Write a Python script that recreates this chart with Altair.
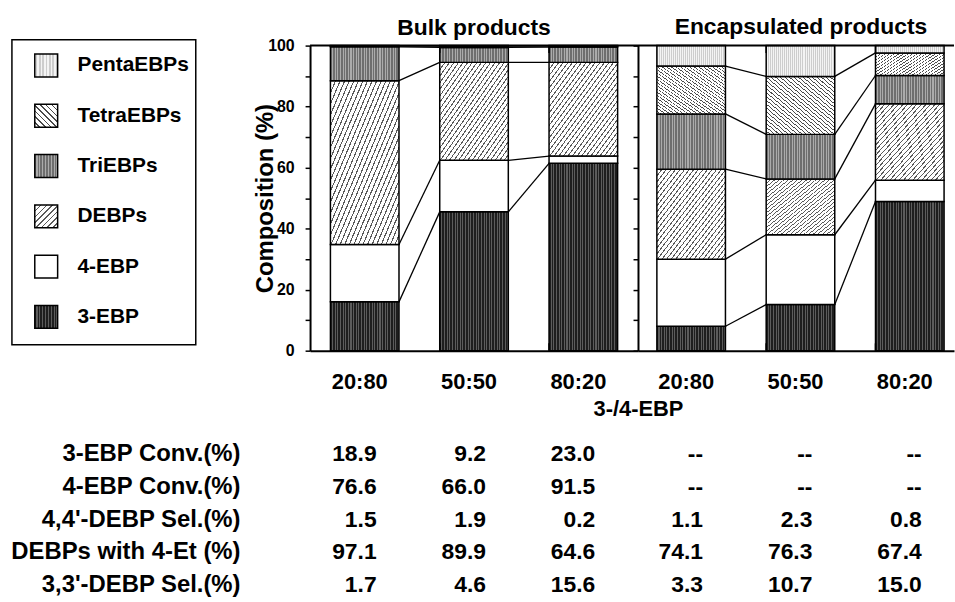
import altair as alt
import pandas as pd

FONT = "Liberation Sans"

conditions = ["20:80", "50:50", "80:20"]
series = ["3-EBP", "4-EBP", "DEBPs", "TriEBPs", "TetraEBPs", "PentaEBPs"]

# Product composition (%), one value per 3-/4-EBP ratio
bulk_3ebp = [16.0, 45.5, 61.4]
bulk_4ebp = [18.8, 16.9, 2.4]
bulk_debps = [53.7, 32.1, 30.7]
bulk_triebps = [11.1, 4.9, 5.0]
bulk_tetraebps = [0.2, 0.4, 0.3]
bulk_pentaebps = [0.2, 0.2, 0.2]

encap_3ebp = [8.0, 15.1, 48.9]
encap_4ebp = [22.0, 22.9, 7.0]
encap_debps = [29.5, 18.3, 25.0]
encap_triebps = [18.1, 14.6, 9.3]
encap_tetraebps = [15.7, 19.0, 7.4]
encap_pentaebps = [6.7, 10.1, 2.4]

# Table under the panels
metrics = ["3-EBP Conv.(%)", "4-EBP Conv.(%)", "4,4'-DEBP Sel.(%)",
           "DEBPs with 4-Et (%)", "3,3'-DEBP Sel.(%)"]
conv3_bulk = ["18.9", "9.2", "23.0"]
conv4_bulk = ["76.6", "66.0", "91.5"]
sel44_bulk = ["1.5", "1.9", "0.2"]
et4_bulk = ["97.1", "89.9", "64.6"]
sel33_bulk = ["1.7", "4.6", "15.6"]
conv3_encap = ["--", "--", "--"]
conv4_encap = ["--", "--", "--"]
sel44_encap = ["1.1", "2.3", "0.8"]
et4_encap = ["74.1", "76.3", "67.4"]
sel33_encap = ["3.3", "10.7", "15.0"]

bulk_values = [bulk_3ebp, bulk_4ebp, bulk_debps, bulk_triebps, bulk_tetraebps, bulk_pentaebps]
encap_values = [encap_3ebp, encap_4ebp, encap_debps, encap_triebps, encap_tetraebps, encap_pentaebps]
bulk_table = [conv3_bulk, conv4_bulk, sel44_bulk, et4_bulk, sel33_bulk]
encap_table = [conv3_encap, conv4_encap, sel44_encap, et4_encap, sel33_encap]

H = 307          # plot height of each panel
W_BULK = 330
W_ENCAP = 318
TABLE_ROWS = [411, 543]   # first / last table row, measured from the panel top


def segments(values):
    rows = []
    for i, c in enumerate(conditions):
        lo = 0.0
        for s, vals in zip(series, values):
            hi = lo + vals[i]
            rows.append({"cond": c, "series": s, "lo": lo, "hi": hi})
            lo = hi
    return pd.DataFrame(rows)


def connectors(values):
    tops = []
    for i in range(len(conditions)):
        acc, t = 0.0, []
        for vals in values[:-1]:
            acc += vals[i]
            t.append(acc)
        tops.append(t)
    rows = []
    for i in range(len(conditions) - 1):
        for k in range(len(series) - 1):
            rows.append({"cond": conditions[i], "next": conditions[i + 1],
                         "left": tops[i][k], "right": tops[i + 1][k]})
    return pd.DataFrame(rows)


def table(cols):
    return pd.DataFrame([{"metric": m, "cond": c, "text": v}
                         for m, vals in zip(metrics, cols)
                         for c, v in zip(conditions, vals)])


def stripes(line, bg, n, frac, x1, y1, x2, y2):
    stops = []
    for k in range(n):
        a, b, c = k / n, (k + frac) / n, (k + 1) / n
        stops += [{"offset": round(a, 4), "color": line},
                  {"offset": round(b, 4), "color": line},
                  {"offset": round(b, 4), "color": bg},
                  {"offset": round(c, 4), "color": bg}]
    return {"gradient": "linear", "x1": x1, "y1": y1, "x2": x2, "y2": y2, "stops": stops}


def fills(vert, diag):
    return {
        "3-EBP": stripes("#1e1e1e", "#5c5c5c", vert, 0.6, 0, 0, 1, 0),
        "4-EBP": "white",
        "DEBPs": stripes("#5a5a5a", "white", diag, 0.26, 0, 0, 1, 1),
        "TriEBPs": stripes("#6e6e6e", "#ababab", vert, 0.6, 0, 0, 1, 0),
        "TetraEBPs": stripes("#4a4a4a", "white", diag, 0.26, 1, 0, 0, 1),
        "PentaEBPs": stripes("#cdcdcd", "#f4f4f4", vert + 8, 0.5, 0, 0, 1, 0),
    }


BAR_FILLS = fills(26, 30)
KEY_FILLS = fills(8, 8)

y_scale = alt.Scale(domain=[0, 100], nice=False, zero=True)
row_scale_args = dict(type="point", domain=metrics, padding=0)


def x_scale(width):
    outer = (width - (3 - 0.3727) * 110) / 220
    align = 0.5 if width == W_BULK else 19 / (width - (3 - 0.3727) * 110)
    return alt.Scale(type="band", domain=conditions, paddingInner=0.3727,
                     paddingOuter=outer, align=align)


def panel(values, cols, width, title, first):
    xs = x_scale(width)
    x_common = dict(orient="bottom", labelFont=FONT, labelFontSize=22,
                    labelFontWeight="bold", labelColor="black", labelAngle=0,
                    labelPadding=21, labelOffset=-5, ticks=False,
                    domainColor="black", domainWidth=2)
    y_common = dict(values=list(range(0, 101, 10)), tickSize=5, tickColor="black",
                    tickWidth=1.5, domainColor="black", domainWidth=2, grid=False)
    if first:
        x_axis = alt.Axis(title="3-/4-EBP", titleFont=FONT, titleFontSize=22,
                          titleFontWeight="bold", titleColor="black",
                          titleX=width, titleY=58, titleAlign="center",
                          titleBaseline="middle", **x_common)
        y_axis = alt.Axis(labelExpr="datum.value % 20 == 0 ? datum.label : ''",
                          labelFont=FONT, labelFontSize=16, labelFontWeight="bold",
                          labelColor="black", labelPadding=11,
                          title="Composition (%)", titleFont=FONT, titleFontSize=24,
                          titleFontWeight="bold", titleColor="black",
                          titleX=-45, titleY=H / 2, titleAngle=270,
                          titleAlign="center", titleBaseline="middle", **y_common)
    else:
        x_axis = alt.Axis(title=None, **x_common)
        y_axis = alt.Axis(labels=False, title=None, **y_common)

    seg = segments(values)
    layers = []
    for k, s in enumerate(series):
        layers.append(
            alt.Chart(seg).transform_filter(alt.datum.series == s)
            .mark_bar(fill=BAR_FILLS[s], stroke="black", strokeWidth=1.5)
            .encode(
                x=alt.X("cond:N", scale=xs, axis=x_axis),
                y=alt.Y("lo:Q", scale=y_scale, axis=y_axis if k == 0 else None),
                y2="hi:Q",
            )
        )

    # lines joining matching boundaries of neighbouring bars
    layers.append(
        alt.Chart(connectors(values)).mark_rule(color="black", strokeWidth=1.3).encode(
            x=alt.X("cond:N", scale=xs, axis=x_axis, bandPosition=1),
            x2=alt.X2("next:N", bandPosition=0),
            y=alt.Y("left:Q", scale=y_scale, axis=None),
            y2="right:Q",
        )
    )

    # top frame line
    layers.append(
        alt.Chart(pd.DataFrame({"v": [100]})).mark_rule(color="black", strokeWidth=2).encode(
            y=alt.Y("v:Q", scale=y_scale, axis=None))
    )

    # short inner ticks between the bars
    gaps = pd.DataFrame({"cond": conditions[1:] * 2,
                         "a": [100, 100, 0, 0], "b": [97.6, 97.6, 2.4, 2.4]})
    layers.append(
        alt.Chart(gaps).mark_rule(color="black", strokeWidth=1.5).encode(
            x=alt.X("cond:N", scale=xs, axis=x_axis, bandPosition=0),
            y=alt.Y("a:Q", scale=y_scale, axis=None),
            y2="b:Q",
        )
    )

    layers.append(
        alt.Chart(table(cols)).mark_text(
            align="right", baseline="middle", dx=12, font=FONT, fontSize=23,
            fontWeight="bold", color="black").encode(
            x=alt.X("cond:N", scale=xs, axis=x_axis),
            y=alt.Y("metric:N", sort=metrics,
                    scale=alt.Scale(range=TABLE_ROWS, **row_scale_args), axis=None),
            text="text:N",
        )
    )

    return alt.layer(*layers).resolve_scale(y="independent").properties(
        width=width, height=H,
        view=alt.ViewBackground(stroke=None),
        title=alt.TitleParams(title, font=FONT, fontSize=23, fontWeight="bold",
                              color="black", offset=6, anchor="middle", frame="group",
                              dx=0 if first else 5, dy=8.5 if first else 0),
    )


bulk_panel = panel(bulk_values, bulk_table, W_BULK, "Bulk products", True)
encap_panel = panel(encap_values, encap_table, W_ENCAP, "Encapsulated products", False)

# Key box on the left, with the table's row labels underneath it
key_df = pd.DataFrame({"series": series})
key_y = alt.Y("series:N", sort=series[::-1],
              scale=alt.Scale(type="point", domain=series[::-1], range=[20, 273], padding=0),
              axis=None)
key_layers = [
    alt.Chart(pd.DataFrame({"box": [1]})).mark_rect(
        filled=False, stroke="black", strokeWidth=1.5).encode(
        x=alt.value(0), x2=alt.value(185), y=alt.value(-6), y2=alt.value(301))
]
key_layers += [alt.Chart(key_df).transform_filter(alt.datum.series == s)
               .mark_square(size=529, fill=KEY_FILLS[s], stroke="black", strokeWidth=1.5, opacity=1)
               .encode(x=alt.value(34.5), y=key_y)
               for s in series]
key_layers.append(
    alt.Chart(key_df).mark_text(
        align="left", baseline="middle", font=FONT, fontSize=21, fontWeight="bold",
        color="black").encode(x=alt.value(66), y=key_y, text="series:N")
)
key_layers.append(
    alt.Chart(pd.DataFrame({"metric": metrics})).mark_text(
        align="right", baseline="middle", font=FONT, fontSize=24, fontWeight="bold",
        color="black").encode(
        x=alt.value(230),
        y=alt.Y("metric:N", sort=metrics,
                scale=alt.Scale(range=TABLE_ROWS, **row_scale_args), axis=None),
        text="metric:N",
    )
)

key = alt.layer(*key_layers).resolve_scale(y="independent").properties(
    width=185, height=H,
    view=alt.ViewBackground(stroke=None),
)

panels = alt.hconcat(bulk_panel, encap_panel, spacing=0, bounds="flush")

chart = alt.hconcat(key, panels, spacing=13).properties(
    padding={"left": 11, "top": 14, "right": 0, "bottom": 0},
    background="white",
)

chart.save("out.html", embed_options={"renderer": "svg", "actions": False})
